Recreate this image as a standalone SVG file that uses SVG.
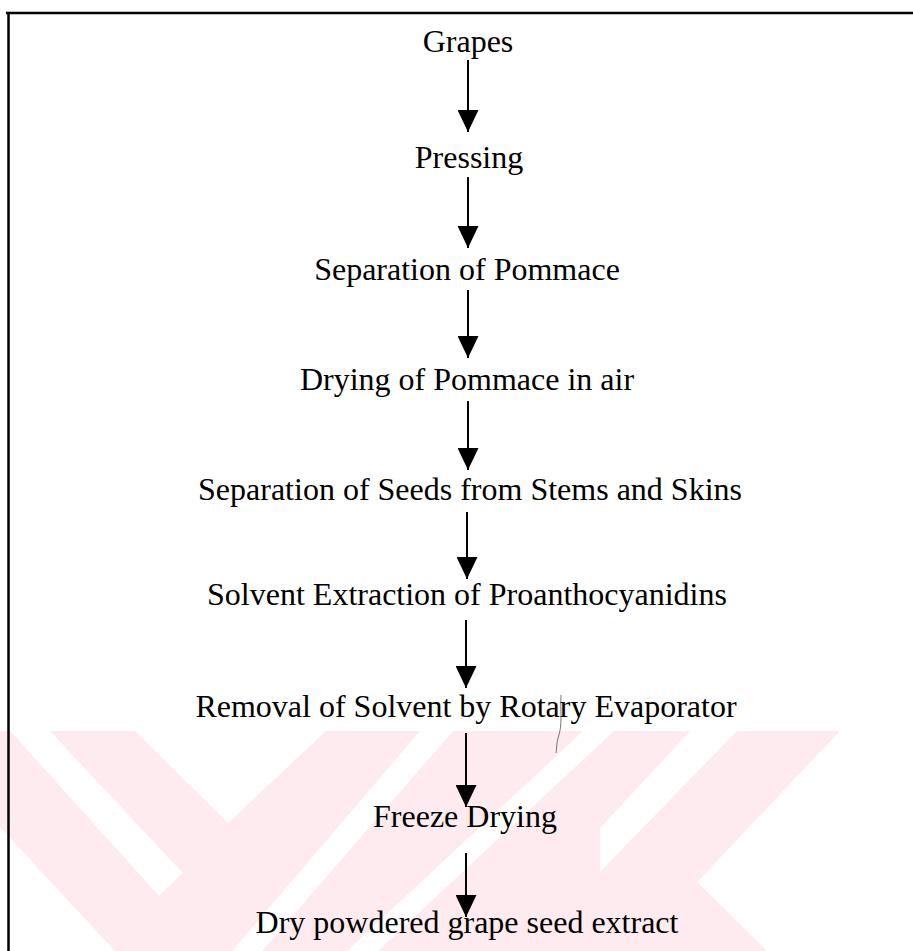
<svg xmlns="http://www.w3.org/2000/svg" width="913" height="951" viewBox="0 0 913 951">
  <style>
    .lbl { font-family: "Liberation Serif", "Times New Roman", serif; font-size: 32px; fill: #000; text-anchor: middle; }
    .conn { stroke: #000; stroke-width: 2; fill: none; marker-end: url(#head); }
    .frame { stroke: #000; stroke-width: 2.5; fill: none; }
    .wm { fill: #fdebef; }
    .cut { fill: #fff; }
  </style>
  <defs>
    <marker id="head" markerUnits="userSpaceOnUse" markerWidth="22" markerHeight="21" refX="22" refY="10.5" orient="auto">
      <path d="M0,0 L22,10.5 L0,21 Z" fill="#000"/>
    </marker>
  </defs>
  <rect width="913" height="951" fill="#fff"/>
  <g id="watermark">
    <path class="wm" d="M0,731 H840 L697,882 L767,951 H0 Z"/>
    <polygon class="cut" points="10,731 50,731 183,873 159,896"/>
    <polygon class="cut" points="0,827 0,951 115,951"/>
    <polygon class="cut" points="135,731 326,731 228,823"/>
    <polygon class="cut" points="420,731 453,731 262,951 232,951"/>
    <polygon class="cut" points="583,731 614,731 378,951 347,951"/>
    <polygon class="cut" points="690,731 737,731 600,872 600,828"/>
  </g>
  <g id="frame">
    <path class="frame" d="M6,13 H913 M8.5,12 V951"/>
  </g>
  <path d="M561,695 C560,710 563,725 558,738 C556,745 557,750 556,753" stroke="#777" stroke-width="1" fill="none"/>
  <g id="connectors">
    <line class="conn" x1="468" y1="60" x2="468" y2="132"/>
    <line class="conn" x1="468" y1="177" x2="468" y2="248"/>
    <line class="conn" x1="468" y1="290" x2="468" y2="358"/>
    <line class="conn" x1="468" y1="401" x2="468" y2="470"/>
    <line class="conn" x1="467" y1="512" x2="467" y2="579"/>
    <line class="conn" x1="466" y1="620" x2="466" y2="688"/>
    <line class="conn" x1="466" y1="733" x2="466" y2="807"/>
    <line class="conn" x1="466" y1="853" x2="466" y2="917"/>
  </g>
  <g id="n1"><text class="lbl" x="468" y="52">Grapes</text></g>
  <g id="n2"><text class="lbl" x="469" y="168">Pressing</text></g>
  <g id="n3"><text class="lbl" x="467" y="280">Separation of Pommace</text></g>
  <g id="n4"><text class="lbl" x="467" y="390">Drying of Pommace in air</text></g>
  <g id="n5"><text class="lbl" x="470" y="500">Separation of Seeds from Stems and Skins</text></g>
  <g id="n6"><text class="lbl" x="467" y="605">Solvent Extraction of Proanthocyanidins</text></g>
  <g id="n7"><text class="lbl" x="466" y="717">Removal of Solvent by Rotary Evaporator</text></g>
  <g id="n8"><text class="lbl" x="465" y="827">Freeze Drying</text></g>
  <g id="n9"><text class="lbl" x="467" y="933">Dry powdered grape seed extract</text></g>
</svg>
